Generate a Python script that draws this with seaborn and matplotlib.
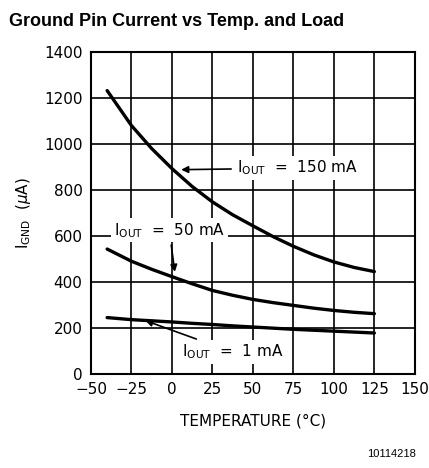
import matplotlib
matplotlib.use("Agg")
import matplotlib.pyplot as plt
import seaborn as sns
import pandas as pd

# data
temps = [-40, -25, -12.5, 0, 12.5, 25, 37.5, 50, 62.5, 75, 87.5, 100, 112.5, 125]
i_150ma = [1232, 1080, 980, 893, 815, 748, 692, 644, 597, 555, 518, 487, 463, 445]
i_50ma = [543, 490, 455, 423, 392, 363, 342, 324, 310, 298, 286, 276, 268, 262]
i_1ma = [245, 236, 231, 226, 220, 215, 209, 204, 199, 194, 190, 186, 182, 178]
x_ticks = [-50, -25, 0, 25, 50, 75, 100, 125, 150]
y_ticks = [0, 200, 400, 600, 800, 1000, 1200, 1400]

df = pd.DataFrame({
    "temp": temps * 3,
    "ignd": i_150ma + i_50ma + i_1ma,
    "load": ["150 mA"] * len(temps) + ["50 mA"] * len(temps) + ["1 mA"] * len(temps),
})

sns.set_style("white")
plt.rcParams['font.family'] = ['DejaVu Sans']
plt.rcParams['mathtext.fontset'] = 'dejavusans'
plt.rcParams['text.color'] = 'black'
plt.rcParams['axes.labelcolor'] = 'black'

fig = plt.figure(figsize=(4.29, 4.68), dpi=100)
ax = fig.add_axes([0.212, 0.201, 0.755, 0.688])

sns.lineplot(data=df, x="temp", y="ignd", units="load", estimator=None,
             color="black", linewidth=2.4, ax=ax, legend=False)

ax.set_xlim(-50, 150)
ax.set_ylim(0, 1400)
ax.set_xticks(x_ticks)
ax.set_yticks(y_ticks)
ax.grid(True, color="black", linewidth=1.2)
ax.set_axisbelow(True)
for sp in ax.spines.values():
    sp.set_color("black")
    sp.set_linewidth(1.5)
ax.tick_params(length=0, labelsize=11, colors="black", pad=6)

ax.set_xlabel("TEMPERATURE (°C)", fontsize=11, labelpad=12)
ax.set_ylabel(r"I$_{\mathregular{GND}}$  ($\mu$A)", fontsize=11, labelpad=8)

box = dict(facecolor="white", edgecolor="none", pad=2)
arrow = dict(arrowstyle="-|>", color="black", linewidth=1.2, mutation_scale=10)

ax.annotate(r"I$_{\mathregular{OUT}}$  =  150 mA", xy=(4, 888), xytext=(40, 895),
            fontsize=11, va="center", ha="left", bbox=box, arrowprops=arrow)
ax.annotate(r"I$_{\mathregular{OUT}}$  =  50 mA", xy=(2, 432), xytext=(-36, 625),
            fontsize=11, va="center", ha="left", bbox=box, arrowprops=arrow)
ax.annotate(r"I$_{\mathregular{OUT}}$  =  1 mA", xy=(-18, 236), xytext=(6, 95),
            fontsize=11, va="center", ha="left", bbox=box, arrowprops=arrow)

fig.text(0.02, 0.955, "Ground Pin Current vs Temp. and Load", fontsize=13,
         fontweight="bold", family="Liberation Sans", ha="left", va="center")
fig.text(0.97, 0.03, "10114218", fontsize=8, family="Liberation Sans",
         ha="right", va="center")

fig.savefig("out.png", dpi=100)
